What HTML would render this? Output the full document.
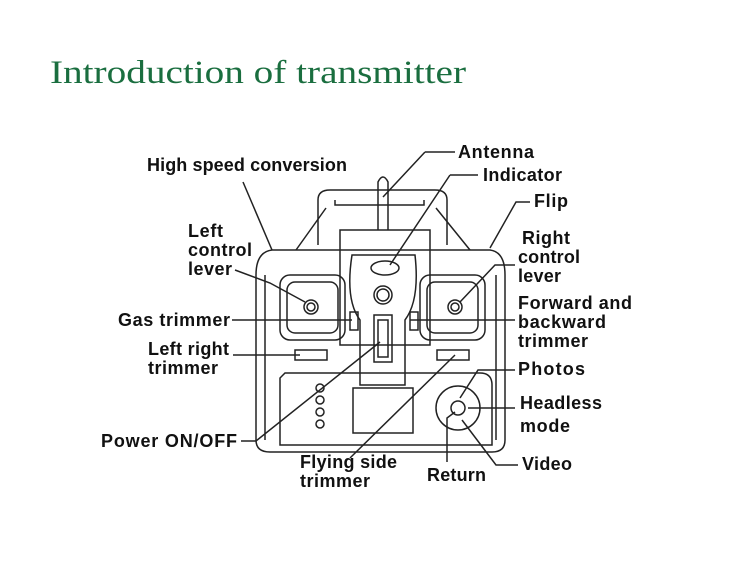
<!DOCTYPE html>
<html><head><meta charset="utf-8"><style>
html,body{margin:0;padding:0;background:#fff;}
svg{display:block;}
text.l{font-family:"Liberation Sans",sans-serif;font-weight:bold;font-size:18px;fill:#111;}
</style></head><body>
<svg width="750" height="563" viewBox="0 0 750 563">
<text x="50" y="83" font-family="Liberation Serif,serif" font-size="33" fill="#1a6e3f" textLength="416" lengthAdjust="spacingAndGlyphs">Introduction of transmitter</text>
<g fill="none" stroke="#222" stroke-width="1.5">
<path d="M318,245 L318,200 Q318,190 330,190 L435,190 Q447,190 447,200 L447,245"/>
<path d="M335,200 L335,205 L424,205 L424,200"/>
<path d="M296,250 L326,208 M470,250 L436,208"/>
<path d="M378,230 L378,182 Q383,172 388,182 L388,230"/>
<path d="M340,230 L430,230 L430,345 L340,345 Z" />
<path d="M272,250 L490,250 Q505,252 505,275 L505,440 Q505,452 492,452 L270,452 Q256,452 256,440 L256,275 Q256,252 272,250 Z"/>
<path d="M265,275 L265,440 M496,275 L496,440"/>
<path d="M352,255 L415,255 Q420,300 405,320 L405,385 L360,385 L360,320 Q345,300 352,255 Z"/>
<ellipse cx="385" cy="268" rx="14" ry="7"/>
<circle cx="383" cy="295" r="9"/><circle cx="383" cy="295" r="6"/>
<rect x="374" y="315" width="18" height="47"/><rect x="378" y="320" width="10" height="37"/>
<rect x="280" y="275" width="65" height="65" rx="10"/><rect x="287" y="282" width="51" height="51" rx="8"/>
<circle cx="311" cy="307" r="7"/><circle cx="311" cy="307" r="4"/>
<rect x="420" y="275" width="65" height="65" rx="10"/><rect x="427" y="282" width="51" height="51" rx="8"/>
<circle cx="455" cy="307" r="7"/><circle cx="455" cy="307" r="4"/>
<rect x="350" y="312" width="8" height="18"/><rect x="410" y="312" width="8" height="18"/>
<rect x="295" y="350" width="32" height="10"/><rect x="437" y="350" width="32" height="10"/>
<path d="M285,373 L480,373 Q492,373 492,385 L492,445 L280,445 L280,378 Z"/>
<rect x="353" y="388" width="60" height="45"/>
<circle cx="320" cy="388" r="4"/><circle cx="320" cy="400" r="4"/><circle cx="320" cy="412" r="4"/><circle cx="320" cy="424" r="4"/>
<circle cx="458" cy="408" r="22"/><circle cx="458" cy="408" r="7"/>
<path d="M243,182 L272,250"/>
<path d="M425,152 L455,152 M425,152 L383,197"/>
<path d="M450,175 L478,175 M450,175 L390,265"/>
<path d="M530,202 L516,202 L490,248"/>
<path d="M235,270 L270,283 L305,302"/>
<path d="M515,265 L495,265 L460,302"/>
<path d="M232,320 L352,320"/>
<path d="M410,320 L515,320"/>
<path d="M233,355 L300,355"/>
<path d="M241,441 L256,441 L380,342"/>
<path d="M350,458 L455,355"/>
<path d="M515,370 L478,370 L460,398"/>
<path d="M468,408 L515,408"/>
<path d="M447,462 L447,418 L455,412"/>
<path d="M518,465 L496,465 L462,420"/>
</g>
<g lengthAdjust="spacingAndGlyphs">
<text class="l" x="147" y="171" textLength="200">High speed conversion</text>
<text class="l" x="458" y="158" textLength="76">Antenna</text>
<text class="l" x="483" y="181" textLength="79">Indicator</text>
<text class="l" x="534" y="207" textLength="34">Flip</text>
<text class="l" x="188" y="237" textLength="35">Left</text>
<text class="l" x="188" y="256" textLength="64">control</text>
<text class="l" x="188" y="275" textLength="44">lever</text>
<text class="l" x="522" y="244" textLength="48">Right</text>
<text class="l" x="518" y="263" textLength="62">control</text>
<text class="l" x="518" y="282" textLength="43">lever</text>
<text class="l" x="518" y="309" textLength="114">Forward and</text>
<text class="l" x="518" y="328" textLength="88">backward</text>
<text class="l" x="518" y="347" textLength="70">trimmer</text>
<text class="l" x="118" y="326" textLength="112">Gas trimmer</text>
<text class="l" x="148" y="355" textLength="81">Left right</text>
<text class="l" x="148" y="374" textLength="70">trimmer</text>
<text class="l" x="518" y="375" textLength="67">Photos</text>
<text class="l" x="520" y="409" textLength="82">Headless</text>
<text class="l" x="520" y="432" textLength="50">mode</text>
<text class="l" x="101" y="447" textLength="136">Power ON/OFF</text>
<text class="l" x="300" y="468" textLength="97">Flying side</text>
<text class="l" x="300" y="487" textLength="70">trimmer</text>
<text class="l" x="427" y="481" textLength="59">Return</text>
<text class="l" x="522" y="470" textLength="50">Video</text>
</g>
</svg>
</body></html>
